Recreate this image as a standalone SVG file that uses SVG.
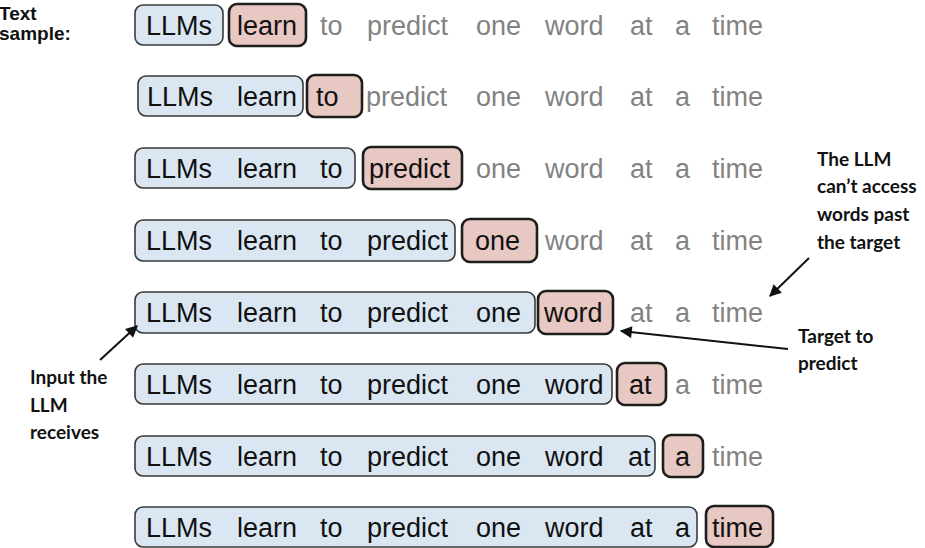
<svg xmlns="http://www.w3.org/2000/svg" width="925" height="548" viewBox="0 0 925 548">
<style>
.w{font-family:"Liberation Sans",Arial,sans-serif;font-size:27px;fill:#111}
.g{fill:#828282}
.in{fill:#dae7f2;stroke:#3a3a3a;stroke-width:1.6}
.tg{fill:#e8c8c2;stroke:#1e1e1e;stroke-width:2.6}
.ann{font-family:Lato,"Open Sans",sans-serif;font-weight:bold;font-size:19px;fill:#111}
.hd{font-family:"Liberation Sans",Arial,sans-serif;font-weight:bold;font-size:19px;fill:#111}
.ar{stroke:#111;stroke-width:2;fill:none;marker-end:url(#ah)}
</style>
<defs>
<marker id="ah" viewBox="0 0 10 10" refX="9" refY="5" markerWidth="6.5" markerHeight="6" orient="auto" markerUnits="strokeWidth">
<path d="M0,0 L10,5 L0,10 Z" fill="#111"/>
</marker>
</defs>
<rect width="925" height="548" fill="#fff"/>
<g id="label-text-sample">
<text class="hd" x="-1" y="20">Text</text>
<text class="hd" x="-1" y="40">sample:</text>
</g>
<g id="row1">
<rect class="in" x="135" y="5" width="88" height="40" rx="8"/>
<rect class="tg" x="229" y="4" width="77" height="42" rx="8"/>
<text class="w" y="35"><tspan x="146">LLMs</tspan><tspan x="237">learn</tspan><tspan class="g" x="320">to</tspan><tspan class="g" x="367">predict</tspan><tspan class="g" x="476">one</tspan><tspan class="g" x="545">word</tspan><tspan class="g" x="630">at</tspan><tspan class="g" x="675">a</tspan><tspan class="g" x="712">time</tspan></text>
</g>
<g id="row2">
<rect class="in" x="138" y="76" width="165" height="40" rx="8"/>
<rect class="tg" x="307" y="75" width="55" height="42" rx="8"/>
<text class="w" y="106"><tspan x="147">LLMs</tspan><tspan x="237">learn</tspan><tspan x="316">to</tspan><tspan class="g" x="366">predict</tspan><tspan class="g" x="476">one</tspan><tspan class="g" x="545">word</tspan><tspan class="g" x="630">at</tspan><tspan class="g" x="675">a</tspan><tspan class="g" x="712">time</tspan></text>
</g>
<g id="row3">
<rect class="in" x="135" y="148" width="220" height="40" rx="8"/>
<rect class="tg" x="363" y="147" width="99" height="42" rx="8"/>
<text class="w" y="178"><tspan x="146">LLMs</tspan><tspan x="237">learn</tspan><tspan x="320">to</tspan><tspan x="369">predict</tspan><tspan class="g" x="476">one</tspan><tspan class="g" x="545">word</tspan><tspan class="g" x="630">at</tspan><tspan class="g" x="675">a</tspan><tspan class="g" x="712">time</tspan></text>
</g>
<g id="row4">
<rect class="in" x="135" y="220" width="320" height="41" rx="8"/>
<rect class="tg" x="462" y="219" width="75" height="43" rx="8"/>
<text class="w" y="250"><tspan x="146">LLMs</tspan><tspan x="237">learn</tspan><tspan x="320">to</tspan><tspan x="367">predict</tspan><tspan x="475">one</tspan><tspan class="g" x="545">word</tspan><tspan class="g" x="630">at</tspan><tspan class="g" x="675">a</tspan><tspan class="g" x="712">time</tspan></text>
</g>
<g id="row5">
<rect class="in" x="135" y="292" width="400" height="41" rx="8"/>
<rect class="tg" x="538" y="291" width="75" height="43" rx="8"/>
<text class="w" y="322"><tspan x="146">LLMs</tspan><tspan x="237">learn</tspan><tspan x="320">to</tspan><tspan x="367">predict</tspan><tspan x="476">one</tspan><tspan x="544">word</tspan><tspan class="g" x="630">at</tspan><tspan class="g" x="675">a</tspan><tspan class="g" x="712">time</tspan></text>
</g>
<g id="row6">
<rect class="in" x="135" y="364" width="477" height="40" rx="8"/>
<rect class="tg" x="617" y="363" width="49" height="42" rx="8"/>
<text class="w" y="394"><tspan x="146">LLMs</tspan><tspan x="237">learn</tspan><tspan x="320">to</tspan><tspan x="367">predict</tspan><tspan x="476">one</tspan><tspan x="545">word</tspan><tspan x="629">at</tspan><tspan class="g" x="675">a</tspan><tspan class="g" x="712">time</tspan></text>
</g>
<g id="row7">
<rect class="in" x="135" y="436" width="520" height="40" rx="8"/>
<rect class="tg" x="663" y="435" width="40" height="42" rx="8"/>
<text class="w" y="466"><tspan x="146">LLMs</tspan><tspan x="237">learn</tspan><tspan x="320">to</tspan><tspan x="367">predict</tspan><tspan x="476">one</tspan><tspan x="545">word</tspan><tspan x="628">at</tspan><tspan x="675">a</tspan><tspan class="g" x="712">time</tspan></text>
</g>
<g id="row8">
<rect class="in" x="135" y="507" width="562" height="40" rx="8"/>
<rect class="tg" x="706" y="506" width="67" height="41" rx="8"/>
<text class="w" y="537"><tspan x="146">LLMs</tspan><tspan x="237">learn</tspan><tspan x="320">to</tspan><tspan x="367">predict</tspan><tspan x="476">one</tspan><tspan x="545">word</tspan><tspan x="630">at</tspan><tspan x="675">a</tspan><tspan x="712">time</tspan></text>
</g>
<g id="note-llm-cant-access">
<text class="ann" x="817" y="166">The LLM</text>
<text class="ann" x="817" y="193">can’t access</text>
<text class="ann" x="817" y="221">words past</text>
<text class="ann" x="817" y="249">the target</text>
</g>
<g id="note-target">
<text class="ann" x="798" y="343">Target to</text>
<text class="ann" x="798" y="370">predict</text>
</g>
<g id="note-input">
<text class="ann" x="30" y="384">Input the</text>
<text class="ann" x="30" y="412">LLM</text>
<text class="ann" x="30" y="439">receives</text>
</g>
<g id="connectors">
<path class="ar" d="M809,258 L770,296"/>
<path class="ar" d="M788,349 L621,331"/>
<path class="ar" d="M100,360 L137,326"/>
</g>
</svg>
